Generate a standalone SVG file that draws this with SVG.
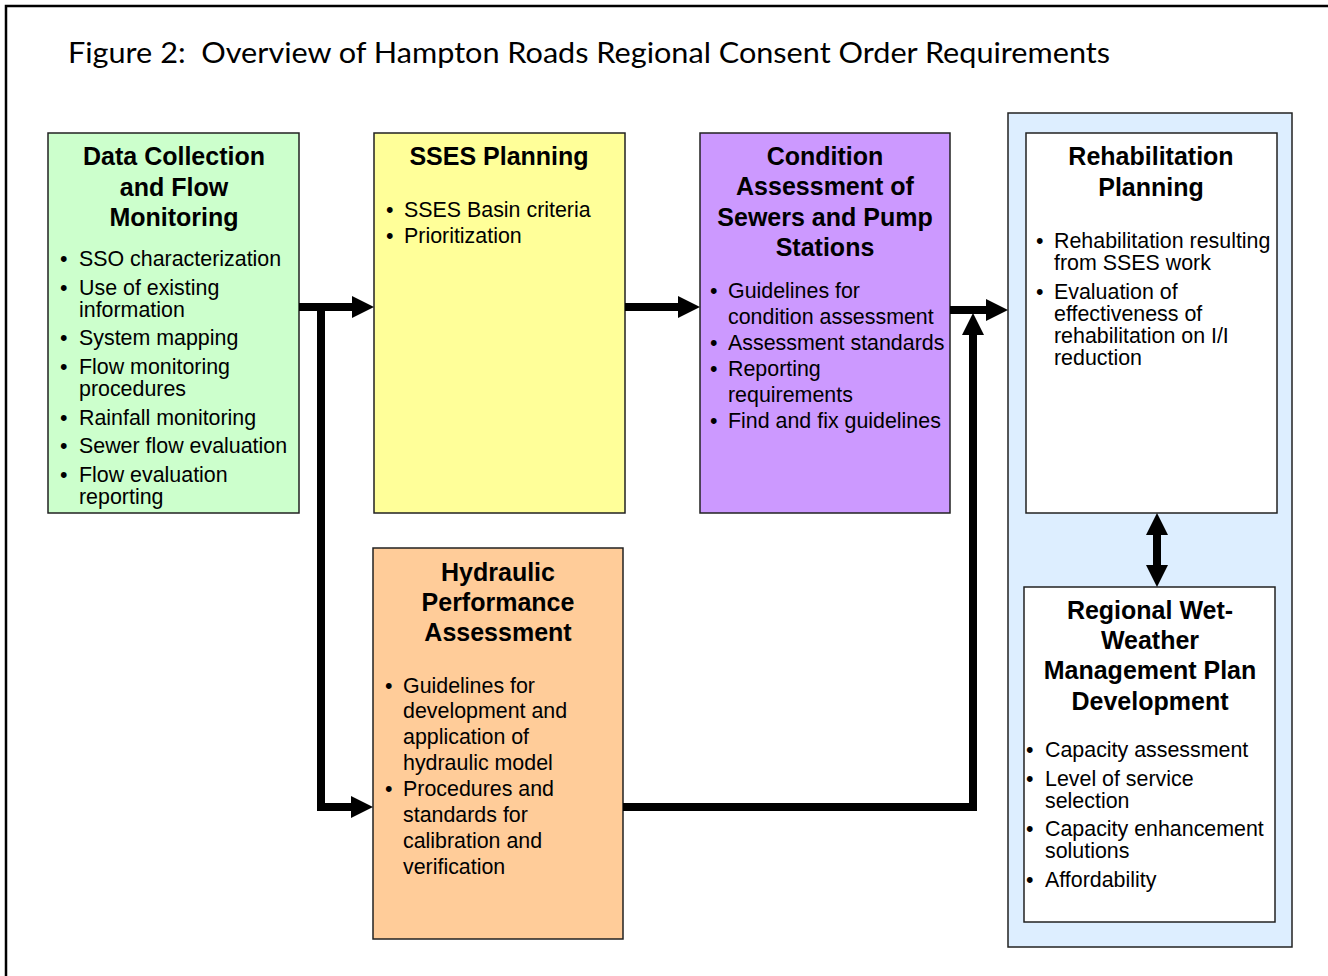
<svg xmlns="http://www.w3.org/2000/svg" width="1328" height="976" viewBox="0 0 1328 976">
<style>
.box{stroke:#222;stroke-width:1.5}
.ttl{font-family:"Liberation Sans",Arial,sans-serif;font-weight:bold;font-size:25px;fill:#000;text-anchor:middle}
.bul{font-family:"Liberation Sans",Arial,sans-serif;font-size:21.4px;fill:#000}
.conn{fill:none;stroke:#000;stroke-width:8;stroke-linejoin:miter}
</style>
<defs>
<marker id="ah" markerUnits="userSpaceOnUse" viewBox="0 -12 23 24" markerWidth="23" markerHeight="24" refX="1" refY="0" orient="auto-start-reverse">
<path d="M0,-11 L22,0 L0,11 z" fill="#000"/>
</marker>
</defs>
<rect width="1328" height="976" fill="#fff"/>
<path d="M6,976 V6 H1330" fill="none" stroke="#000" stroke-width="2.5"/>
<text x="68" y="63" font-family="Lato,'Open Sans',sans-serif" font-size="28" textLength="1042" lengthAdjust="spacingAndGlyphs" xml:space="preserve">Figure 2:  Overview of Hampton Roads Regional Consent Order Requirements</text>

<g id="container">
<rect x="1008" y="113" width="284" height="834" fill="#DDEEFF" class="box"/>
</g>

<g id="data-collection">
<rect x="48" y="133" width="251" height="380" fill="#CCFFCC" class="box"/>
<text class="ttl" x="174" y="165">Data Collection</text>
<text class="ttl" x="174" y="196">and Flow</text>
<text class="ttl" x="174" y="226">Monitoring</text>
<g class="bul">
<text x="60" y="266">•</text><text x="79" y="266">SSO characterization</text>
<text x="60" y="295">•</text><text x="79" y="295">Use of existing</text>
<text x="79" y="317">information</text>
<text x="60" y="345">•</text><text x="79" y="345">System mapping</text>
<text x="60" y="374">•</text><text x="79" y="374">Flow monitoring</text>
<text x="79" y="396">procedures</text>
<text x="60" y="425">•</text><text x="79" y="425">Rainfall monitoring</text>
<text x="60" y="453">•</text><text x="79" y="453">Sewer flow evaluation</text>
<text x="60" y="482">•</text><text x="79" y="482">Flow evaluation</text>
<text x="79" y="504">reporting</text>
</g>
</g>

<g id="sses-planning">
<rect x="374" y="133" width="251" height="380" fill="#FFFF99" class="box"/>
<text class="ttl" x="499" y="165">SSES Planning</text>
<g class="bul">
<text x="386" y="217">•</text><text x="404" y="217">SSES Basin criteria</text>
<text x="386" y="243">•</text><text x="404" y="243">Prioritization</text>
</g>
</g>

<g id="condition-assessment">
<rect x="700" y="133" width="250" height="380" fill="#CC99FF" class="box"/>
<text class="ttl" x="825" y="165">Condition</text>
<text class="ttl" x="825" y="195">Assessment of</text>
<text class="ttl" x="825" y="226">Sewers and Pump</text>
<text class="ttl" x="825" y="256">Stations</text>
<g class="bul">
<text x="710" y="298">•</text><text x="728" y="298">Guidelines for</text>
<text x="728" y="324">condition assessment</text>
<text x="710" y="350">•</text><text x="728" y="350">Assessment standards</text>
<text x="710" y="376">•</text><text x="728" y="376">Reporting</text>
<text x="728" y="402">requirements</text>
<text x="710" y="428">•</text><text x="728" y="428">Find and fix guidelines</text>
</g>
</g>

<g id="hydraulic">
<rect x="373" y="548" width="250" height="391" fill="#FFCC99" class="box"/>
<text class="ttl" x="498" y="581">Hydraulic</text>
<text class="ttl" x="498" y="611">Performance</text>
<text class="ttl" x="498" y="641">Assessment</text>
<g class="bul">
<text x="385" y="693">•</text><text x="403" y="693">Guidelines for</text>
<text x="403" y="718">development and</text>
<text x="403" y="744">application of</text>
<text x="403" y="770">hydraulic model</text>
<text x="385" y="796">•</text><text x="403" y="796">Procedures and</text>
<text x="403" y="822">standards for</text>
<text x="403" y="848">calibration and</text>
<text x="403" y="874">verification</text>
</g>
</g>

<g id="rehab-planning">
<rect x="1026" y="133" width="251" height="380" fill="#fff" class="box"/>
<text class="ttl" x="1151" y="165">Rehabilitation</text>
<text class="ttl" x="1151" y="196">Planning</text>
<g class="bul">
<text x="1036" y="248">•</text><text x="1054" y="248">Rehabilitation resulting</text>
<text x="1054" y="270">from SSES work</text>
<text x="1036" y="299">•</text><text x="1054" y="299">Evaluation of</text>
<text x="1054" y="321">effectiveness of</text>
<text x="1054" y="343">rehabilitation on I/I</text>
<text x="1054" y="365">reduction</text>
</g>
</g>

<g id="regional-plan">
<rect x="1024" y="587" width="251" height="335" fill="#fff" class="box"/>
<text class="ttl" x="1150" y="619">Regional Wet-</text>
<text class="ttl" x="1150" y="649">Weather</text>
<text class="ttl" x="1150" y="679">Management Plan</text>
<text class="ttl" x="1150" y="710">Development</text>
<g class="bul">
<text x="1026" y="757">•</text><text x="1045" y="757">Capacity assessment</text>
<text x="1026" y="786">•</text><text x="1045" y="786">Level of service</text>
<text x="1045" y="808">selection</text>
<text x="1026" y="836">•</text><text x="1045" y="836">Capacity enhancement</text>
<text x="1045" y="858">solutions</text>
<text x="1026" y="887">•</text><text x="1045" y="887">Affordability</text>
</g>
</g>

<g id="connectors">
<path class="conn" d="M299,307 H353" marker-end="url(#ah)"/>
<path class="conn" d="M321,303 V807 H352" marker-end="url(#ah)"/>
<path class="conn" d="M625,307 H679" marker-end="url(#ah)"/>
<path class="conn" d="M950,310 H987" marker-end="url(#ah)"/>
<path class="conn" d="M623,807 H973 V334" marker-end="url(#ah)"/>
<path class="conn" d="M1157,534 V566" marker-start="url(#ah)" marker-end="url(#ah)"/>
</g>
</svg>
